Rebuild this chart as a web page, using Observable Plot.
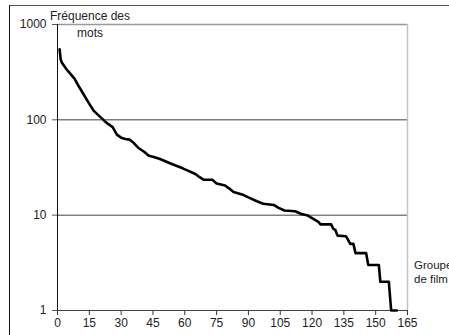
<!DOCTYPE html>
<html>
<head>
<meta charset="utf-8">
<script src="https://cdn.jsdelivr.net/npm/d3@7"></script>
<script src="https://cdn.jsdelivr.net/npm/@observablehq/plot@0.6"></script>
<style>
  html, body { margin: 0; padding: 0; background: #fff; }
  #wrap { position: relative; width: 449px; height: 335px; overflow: hidden; font-family: "Liberation Sans", Arial, sans-serif; }
  #frame { position: absolute; left: 9px; top: 5px; width: 460px; height: 340px; border-top: 1px solid #555; border-left: 1px solid #111; box-sizing: border-box; }
  .lbl { position: absolute; font-size: 12px; color: #222; white-space: nowrap; }
  #chart { position: absolute; left: 0; top: 0; }
</style>
</head>
<body>
<div id="wrap">
  <div id="frame"></div>
  <div id="chart"></div>
  <div class="lbl" style="left:46px;top:8px;text-align:center;width:88px;line-height:17px;">Fréquence des<br>mots</div>
  <div class="lbl" style="left:414px;top:258px;line-height:14px;font-size:11.5px;">Groupe<br>de film</div>
</div>
<script>
// Group rank (x) and word frequency (y)
const rank = [1, 1.5, 2, 4, 6, 8, 10, 12, 14, 17, 20, 22, 24, 26, 28, 30, 32, 34, 36, 38, 41, 43, 45, 48, 50, 53, 56, 59, 62, 65, 67, 69, 73, 75, 79, 81, 83, 87, 91, 94, 97, 102, 104, 107, 112, 115, 118, 120, 123, 124, 129, 130, 131, 132, 136, 137, 138, 139.5, 140.5, 145.5, 146.5, 151.5, 152.2, 156.2, 157.3, 160];
const freq = [550, 430, 400, 345, 305, 270, 225, 190, 160, 125, 108, 98, 90, 84, 70, 65, 63, 62, 57, 51, 46, 42, 41, 39, 37.5, 35, 33, 31, 29, 27, 25, 23.5, 23.5, 21.5, 20.5, 19, 17.5, 16.5, 15, 14, 13.2, 12.8, 12, 11.2, 11, 10.3, 9.9, 9.3, 8.5, 8, 8, 7.2, 7, 6.1, 6, 5.5, 5, 5, 4, 4, 3, 3, 2, 2, 1, 1];
const xTicks = [0, 15, 30, 45, 60, 75, 90, 105, 120, 135, 150, 165];
const yTicks = [1, 10, 100, 1000];
const gridLines = [10, 100];

const data = rank.map((r, i) => ({rank: r, freq: freq[i]}));

const chart = Plot.plot({
  width: 449,
  height: 335,
  marginLeft: 57,
  marginRight: 42,
  marginTop: 24,
  marginBottom: 25,
  style: {fontFamily: "'Liberation Sans', Arial, sans-serif", fontSize: "12px", color: "#222", background: "transparent"},
  x: {domain: [0, 165], label: null},
  y: {type: "log", domain: [1, 1000], label: null},
  marks: [
    Plot.ruleY(gridLines, {stroke: "#808080", strokeWidth: 1.5}),
    Plot.ruleY([1000], {stroke: "#999", strokeWidth: 1.5}),
    Plot.ruleX([165], {stroke: "#c4c4c4", strokeWidth: 1.5}),
    Plot.axisX({ticks: xTicks, tickSize: 5, tickPadding: 3, stroke: "#333", fontSize: 12, label: null}),
    Plot.axisY({ticks: yTicks, tickFormat: d => String(d), tickSize: 5, tickPadding: 6, stroke: "#555", fontSize: 12, label: null}),
    Plot.ruleX([0], {stroke: "#111", strokeWidth: 1}),
    Plot.ruleY([1], {stroke: "#444", strokeWidth: 1}),
    Plot.line(data, {x: "rank", y: "freq", stroke: "#000", strokeWidth: 2.6, strokeLinejoin: "round"})
  ]
});
document.getElementById("chart").appendChild(chart);
</script>
</body>
</html>
